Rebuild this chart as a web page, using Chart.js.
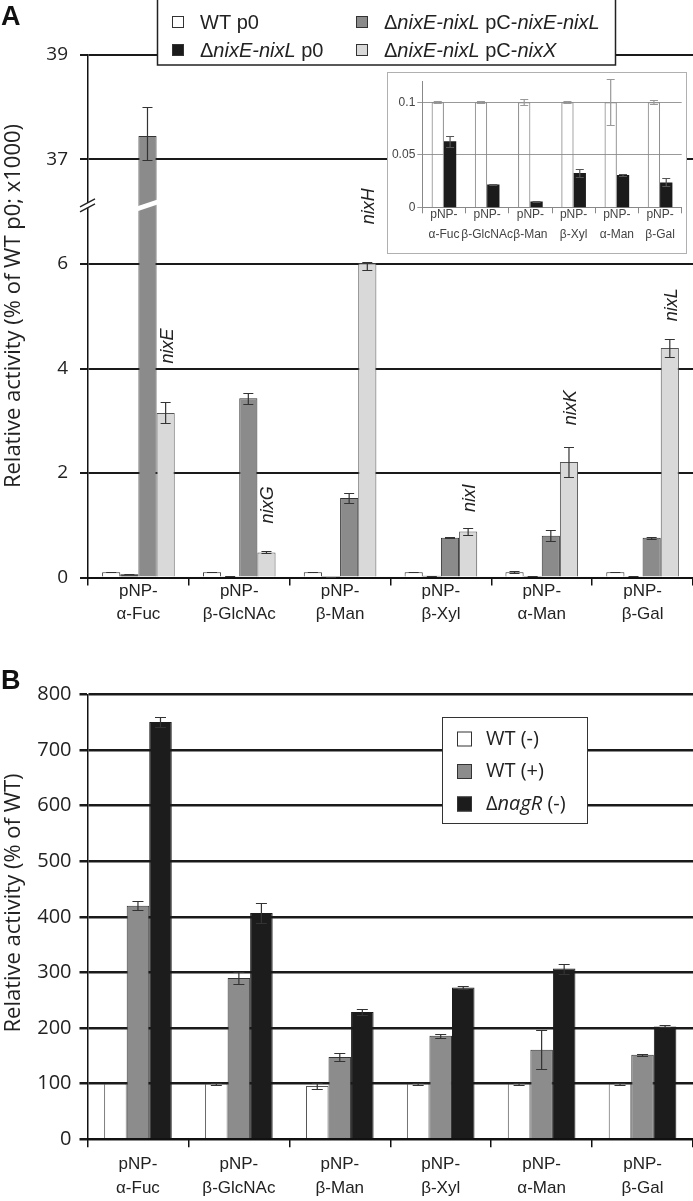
<!DOCTYPE html>
<html>
<head>
<meta charset="utf-8">
<script src="https://cdn.jsdelivr.net/npm/chart.js@4.4.1/dist/chart.umd.min.js"></script>
<style>
  html, body { margin: 0; padding: 0; background: #fff; }
  #wrap { position: relative; width: 693px; height: 1201px; }
  canvas { position: absolute; }
  #panelA { left: 0; top: 0; }
  #inset { left: 387px; top: 72px; background: #fff; }
  #panelB { left: 0; top: 640px; }
</style>
</head>
<body>
<div id="wrap">
  <canvas id="panelA" width="693" height="640"></canvas>
  <canvas id="inset" width="300" height="182"></canvas>
  <canvas id="panelB" width="693" height="561"></canvas>
</div>
<script>
// substrates (x categories, shared by both panels)
const substrates = [['pNP-', 'α-Fuc'], ['pNP-', 'β-GlcNAc'], ['pNP-', 'β-Man'], ['pNP-', 'β-Xyl'], ['pNP-', 'α-Man'], ['pNP-', 'β-Gal']];

// Panel A: relative activity (% of WT p0; x1000)
const wtP0 = [0.1, 0.1, 0.1, 0.1, 0.1, 0.1];
const wtP0Err = [0.001, 0.001, 0.003, 0.001, 0.022, 0.002];
const delP0 = [0.063, 0.022, 0.006, 0.033, 0.031, 0.024];
const delP0Err = [0.005, 0.0005, 0.0005, 0.0035, 0.0005, 0.0037];
const compEL = [37.45, 3.43, 1.52, 0.76, 0.80, 0.76];
const compELErr = [0.55, 0.10, 0.10, 0.01, 0.11, 0.02];
const compX = [3.15, 0.48, 6.20, 0.88, 2.21, 4.39];
const compXErr = [0.20, 0.02, 0.32, 0.06, 0.29, 0.17];
const geneNames = ['nixE', 'nixG', 'nixH', 'nixI', 'nixK', 'nixL'];
const ticksA = [0, 2, 4, 6, 37, 39];
const ticksInset = [0, 0.05, 0.1];

// Panel B: relative activity (% of WT)
const wtMinus = [100, 100, 96, 100, 100, 100];
const wtMinusErr = [null, 2, 5, 2, 2, 2];
const wtPlus = [420, 290, 148, 186, 161, 152];
const wtPlusErr = [8, 10, 7, 3, 35, 2];
const nagRMinus = [750, 407, 229, 273, 307, 203];
const nagRMinusErr = [9, 18, 6, 2, 9, 2];
const ticksB = [0, 100, 200, 300, 400, 500, 600, 700, 800];

// layout bits (not data)
const BREAK = { low: 6, high: 37, gap: 2 };
const geneLabelAt = [4.43, 1.39, 23.1, 1.52, 3.25, 5.22];

Chart.defaults.font.family = '"Liberation Sans", Arial, sans-serif';
Chart.defaults.color = '#222';

// y axis with a cut between BREAK.low and BREAK.high
function squeeze(v) {
  if (v <= BREAK.low) return v;
  if (v >= BREAK.high) return BREAK.low + BREAK.gap + (v - BREAK.high);
  return BREAK.low + (v - BREAK.low) / (BREAK.high - BREAK.low) * BREAK.gap;
}
function unsqueeze(s) {
  if (s <= BREAK.low) return s;
  if (s >= BREAK.low + BREAK.gap) return s - BREAK.low - BREAK.gap + BREAK.high;
  return BREAK.low + (s - BREAK.low) / BREAK.gap * (BREAK.high - BREAK.low);
}
class BrokenScale extends Chart.LinearScale {
  static id = 'broken';
  static defaults = {};
  determineDataLimits() {
    super.determineDataLimits();
    this.min = this.options.min;
    this.max = this.options.max;
  }
  buildTicks() {
    return ticksA.map(value => ({ value }));
  }
  getPixelForValue(v) {
    const a = squeeze(this.min), b = squeeze(this.max);
    return this.getPixelForDecimal((squeeze(v) - a) / (b - a));
  }
  getValueForPixel(p) {
    const a = squeeze(this.min), b = squeeze(this.max);
    return unsqueeze(a + this.getDecimalForPixel(p) * (b - a));
  }
}
Chart.register(BrokenScale);

function drawRich(ctx, parts, x, y, size, family) {
  parts.forEach(([txt, italic]) => {
    ctx.font = (italic ? 'italic ' : '') + size + 'px ' + family;
    ctx.fillText(txt, x, y);
    x += ctx.measureText(txt).width;
  });
}

const errorBars = {
  id: 'errorBars',
  afterDatasetsDraw(chart) {
    const ctx = chart.ctx;
    chart.data.datasets.forEach((ds, i) => {
      if (!ds.errors) return;
      const meta = chart.getDatasetMeta(i);
      const y = chart.scales[meta.yAxisID];
      ctx.save();
      ctx.strokeStyle = ds.errorColor || '#333';
      ctx.lineWidth = 1.2;
      const w = ds.capHalf || 5;
      meta.data.forEach((bar, j) => {
        const e = ds.errors[j];
        if (e == null) return;
        const v = ds.data[j];
        const top = Math.round(y.getPixelForValue(v + e)) + 0.5;
        const bot = Math.round(y.getPixelForValue(v - e)) + 0.5;
        ctx.beginPath();
        ctx.moveTo(bar.x, top); ctx.lineTo(bar.x, bot);
        ctx.moveTo(bar.x - w, top); ctx.lineTo(bar.x + w, top);
        ctx.moveTo(bar.x - w, bot); ctx.lineTo(bar.x + w, bot);
        ctx.stroke();
      });
      ctx.restore();
    });
  }
};

const axisBreak = {
  id: 'axisBreak',
  afterDatasetsDraw(chart) {
    const y = chart.scales.y, ctx = chart.ctx;
    const p0 = y.getPixelForValue(BREAK.low), p1 = y.getPixelForValue(BREAK.high);
    const mid = p0 + (p1 - p0) * 0.56;
    ctx.save();
    ctx.fillStyle = '#fff';
    chart.data.datasets.forEach((ds, i) => {
      chart.getDatasetMeta(i).data.forEach((bar, j) => {
        if (ds.data[j] <= BREAK.high) return;
        const l = bar.x - bar.width / 2 - 1, r = bar.x + bar.width / 2 + 1;
        const rise = (r - l) / 3;
        ctx.beginPath();
        ctx.moveTo(l, mid + rise / 2 - 2.5);
        ctx.lineTo(r, mid - rise / 2 - 2.5);
        ctx.lineTo(r, mid - rise / 2 + 2.5);
        ctx.lineTo(l, mid + rise / 2 + 2.5);
        ctx.closePath();
        ctx.fill();
      });
    });
    const x = chart.chartArea.left;
    ctx.beginPath();
    ctx.moveTo(x - 8, mid + 4 - 2.5); ctx.lineTo(x + 7, mid - 4 - 2.5);
    ctx.lineTo(x + 7, mid - 4 + 2.5); ctx.lineTo(x - 8, mid + 4 + 2.5);
    ctx.closePath();
    ctx.fill();
    ctx.strokeStyle = '#222';
    ctx.lineWidth = 1.4;
    ctx.beginPath();
    ctx.moveTo(x - 8, mid + 4 - 2.5); ctx.lineTo(x + 7, mid - 4 - 2.5);
    ctx.moveTo(x - 8, mid + 4 + 2.5); ctx.lineTo(x + 7, mid - 4 + 2.5);
    ctx.stroke();
    ctx.restore();
  }
};

const geneTags = {
  id: 'geneTags',
  afterDraw(chart) {
    const meta = chart.getDatasetMeta(3), y = chart.scales.y, ctx = chart.ctx;
    ctx.save();
    ctx.font = 'italic 18px "Liberation Sans", Arial';
    ctx.fillStyle = '#222';
    ctx.textAlign = 'center';
    ctx.textBaseline = 'middle';
    geneNames.forEach((g, j) => {
      ctx.save();
      ctx.translate(meta.data[j].x + 2, y.getPixelForValue(geneLabelAt[j]));
      ctx.rotate(-Math.PI / 2);
      ctx.fillText(g, 0, 0);
      ctx.restore();
    });
    ctx.restore();
  }
};

const legendA = {
  id: 'legendA',
  afterDraw(chart) {
    const ctx = chart.ctx, ds = chart.data.datasets;
    const items = [
      { i: 0, x: 172, y: 22, parts: [['WT p0', false]] },
      { i: 2, x: 356, y: 22, parts: [['Δ', false], ['nixE-nixL', true], [' pC-', false], ['nixE-nixL', true]] },
      { i: 1, x: 172, y: 50, parts: [['Δ', false], ['nixE-nixL', true], [' p0', false]] },
      { i: 3, x: 356, y: 50, parts: [['Δ', false], ['nixE-nixL', true], [' pC-', false], ['nixX', true]] }
    ];
    ctx.save();
    ctx.fillStyle = '#fff';
    ctx.fillRect(157, 0, 458, 65);
    ctx.strokeStyle = '#222';
    ctx.lineWidth = 1.5;
    ctx.strokeRect(157.5, -1, 458, 66);
    items.forEach(it => {
      ctx.fillStyle = ds[it.i].backgroundColor;
      ctx.fillRect(it.x, it.y - 6, 12, 12);
      ctx.strokeStyle = '#333';
      ctx.lineWidth = 1;
      ctx.strokeRect(it.x + 0.5, it.y - 5.5, 11, 11);
      ctx.fillStyle = '#222';
      ctx.textBaseline = 'middle';
      drawRich(ctx, it.parts, it.x + 28, it.y + 1, 20, '"Liberation Sans", Arial');
    });
    ctx.restore();
  }
};

const legendB = {
  id: 'legendB',
  afterDraw(chart) {
    const ctx = chart.ctx, ds = chart.data.datasets;
    const rows = [
      [['WT (-)', false]],
      [['WT (+)', false]],
      [['Δ', false], ['nagR', true], [' (-)', false]]
    ];
    ctx.save();
    ctx.fillStyle = '#fff';
    ctx.fillRect(442, 77, 145, 106);
    ctx.strokeStyle = '#333';
    ctx.lineWidth = 1;
    ctx.strokeRect(442.5, 77.5, 145, 106);
    rows.forEach((parts, i) => {
      const cy = 99 + i * 32.5;
      ctx.fillStyle = ds[i].backgroundColor;
      ctx.fillRect(457, cy - 7.5, 15, 15);
      ctx.strokeStyle = '#333';
      ctx.strokeRect(457.5, cy - 7, 14, 14);
      ctx.fillStyle = '#222';
      ctx.textBaseline = 'middle';
      drawRich(ctx, parts, 486, cy, 20, '"Open Sans"');
    });
    ctx.restore();
  }
};

function figureText(letter, letterY, title, titleY) {
  return {
    id: 'figureText',
    afterDraw(chart) {
      const ctx = chart.ctx;
      ctx.save();
      ctx.fillStyle = '#111';
      ctx.font = 'bold 27px "Liberation Sans", Arial';
      ctx.textBaseline = 'alphabetic';
      ctx.fillText(letter, 1, letterY);
      ctx.translate(14, titleY);
      ctx.rotate(-Math.PI / 2);
      ctx.font = '22px "Open Sans"';
      ctx.fillStyle = '#222';
      ctx.textAlign = 'center';
      ctx.textBaseline = 'middle';
      ctx.fillText(title, 0, 0);
      ctx.restore();
    }
  };
}

const insetFrame = {
  id: 'insetFrame',
  beforeDraw(chart) {
    chart.ctx.save();
    chart.ctx.fillStyle = '#fff';
    chart.ctx.fillRect(0, 0, chart.width, chart.height);
    chart.ctx.restore();
  },
  afterDraw(chart) {
    const ctx = chart.ctx;
    ctx.save();
    ctx.strokeStyle = '#b0b0b0';
    ctx.lineWidth = 1;
    ctx.strokeRect(0.5, 0.5, chart.width - 1, chart.height - 1);
    ctx.restore();
  }
};

const noChrome = { legend: { display: false }, tooltip: { enabled: false } };

// Panel A
new Chart(document.getElementById('panelA'), {
  type: 'bar',
  data: {
    labels: substrates,
    datasets: [
      { label: 'WT p0', data: wtP0, errors: wtP0Err, backgroundColor: '#ffffff', borderColor: '#333', borderWidth: 1 },
      { label: 'ΔnixE-nixL p0', data: delP0, errors: delP0Err, backgroundColor: '#1b1b1b', borderColor: '#1b1b1b', borderWidth: 1 },
      { label: 'ΔnixE-nixL pC-nixE-nixL', data: compEL, errors: compELErr, backgroundColor: '#8b8b8b', borderColor: '#333', borderWidth: 1 },
      { label: 'ΔnixE-nixL pC-nixX', data: compX, errors: compXErr, backgroundColor: '#d9d9d9', borderColor: '#555', borderWidth: 1 }
    ]
  },
  options: {
    responsive: false,
    animation: false,
    layout: { padding: { top: 55 } },
    plugins: noChrome,
    datasets: { bar: { categoryPercentage: 0.72, barPercentage: 1 } },
    scales: {
      x: {
        grid: { offset: true, drawOnChartArea: false, tickLength: 8, color: '#111', lineWidth: 1.5 },
        border: { display: true, color: '#111', width: 2 },
        ticks: { color: '#222', font: { size: 17, lineHeight: 1.32 }, padding: -5, maxRotation: 0, autoSkip: false },
        afterFit: s => { s.height = 62.5; }
      },
      y: {
        type: 'broken',
        min: 0,
        max: 39,
        grid: { color: '#1a1a1a', lineWidth: 2, tickLength: 8 },
        border: { color: '#111', width: 1.5 },
        ticks: { color: '#222', font: { family: '"Open Sans"', size: 19 }, padding: 12, callback: v => String(v) },
        afterFit: s => { s.width = 88; }
      }
    }
  },
  plugins: [errorBars, axisBreak, geneTags, legendA, figureText('A', 25, 'Relative activity (% of WT p0; x1000)', 306)]
});

// Panel A inset (zoom on the low values)
new Chart(document.getElementById('inset'), {
  type: 'bar',
  data: {
    labels: substrates,
    datasets: [
      { data: wtP0, errors: wtP0Err, errorColor: '#999', backgroundColor: 'rgba(255,255,255,0)', borderColor: '#888', borderWidth: 1, capHalf: 4 },
      { data: delP0, errors: delP0Err, errorColor: '#555', backgroundColor: '#1b1b1b', borderWidth: 0, capHalf: 4 }
    ]
  },
  options: {
    responsive: false,
    animation: false,
    layout: { padding: { top: 7.3, right: 5.3 } },
    plugins: noChrome,
    datasets: { bar: { categoryPercentage: 0.57, barPercentage: 1 } },
    scales: {
      x: {
        grid: { offset: true, drawOnChartArea: false, tickLength: 5.6, color: '#888' },
        border: { color: '#888' },
        ticks: { color: '#444', font: { size: 12, lineHeight: 1.67 }, padding: -9, maxRotation: 0, minRotation: 0, autoSkip: false },
        afterFit: s => { s.height = 46.3; }
      },
      y: {
        min: 0,
        max: 0.12,
        afterBuildTicks: s => { s.ticks = ticksInset.map(value => ({ value })); },
        grid: { color: '#999', tickLength: 5 },
        border: { color: '#888' },
        ticks: { color: '#444', font: { size: 12 }, padding: 2, callback: v => String(v) },
        afterFit: s => { s.width = 35.3; }
      }
    }
  },
  plugins: [insetFrame, errorBars]
});

// Panel B
new Chart(document.getElementById('panelB'), {
  type: 'bar',
  data: {
    labels: substrates,
    datasets: [
      { label: 'WT (-)', data: wtMinus, errors: wtMinusErr, backgroundColor: '#ffffff', borderColor: '#555', borderWidth: 1, capHalf: 5.5 },
      { label: 'WT (+)', data: wtPlus, errors: wtPlusErr, backgroundColor: '#8c8c8c', borderColor: '#333', borderWidth: 1, capHalf: 5.5 },
      { label: 'ΔnagR (-)', data: nagRMinus, errors: nagRMinusErr, backgroundColor: '#1c1c1c', borderColor: '#1c1c1c', borderWidth: 1, capHalf: 5.5 }
    ]
  },
  options: {
    responsive: false,
    animation: false,
    layout: { padding: { top: 54.3 } },
    plugins: noChrome,
    datasets: { bar: { categoryPercentage: 0.67, barPercentage: 1 } },
    scales: {
      x: {
        grid: { offset: true, drawOnChartArea: false, tickLength: 8, color: '#111', lineWidth: 1.5 },
        border: { display: true, color: '#111', width: 2 },
        ticks: { color: '#222', font: { size: 17, lineHeight: 1.41 }, padding: 4.7, maxRotation: 0, autoSkip: false },
        afterFit: s => { s.height = 61.7; }
      },
      y: {
        min: 0,
        max: 800,
        afterBuildTicks: s => { s.ticks = ticksB.map(value => ({ value })); },
        grid: { color: '#1a1a1a', lineWidth: 2.5, tickLength: 8 },
        border: { color: '#111', width: 1.5 },
        ticks: { color: '#222', font: { family: '"Open Sans"', size: 20 }, padding: 8 },
        afterFit: s => { s.width = 87.5; }
      }
    }
  },
  plugins: [errorBars, legendB, figureText('B', 49, 'Relative activity (% of WT)', 263)]
});
</script>
</body>
</html>
